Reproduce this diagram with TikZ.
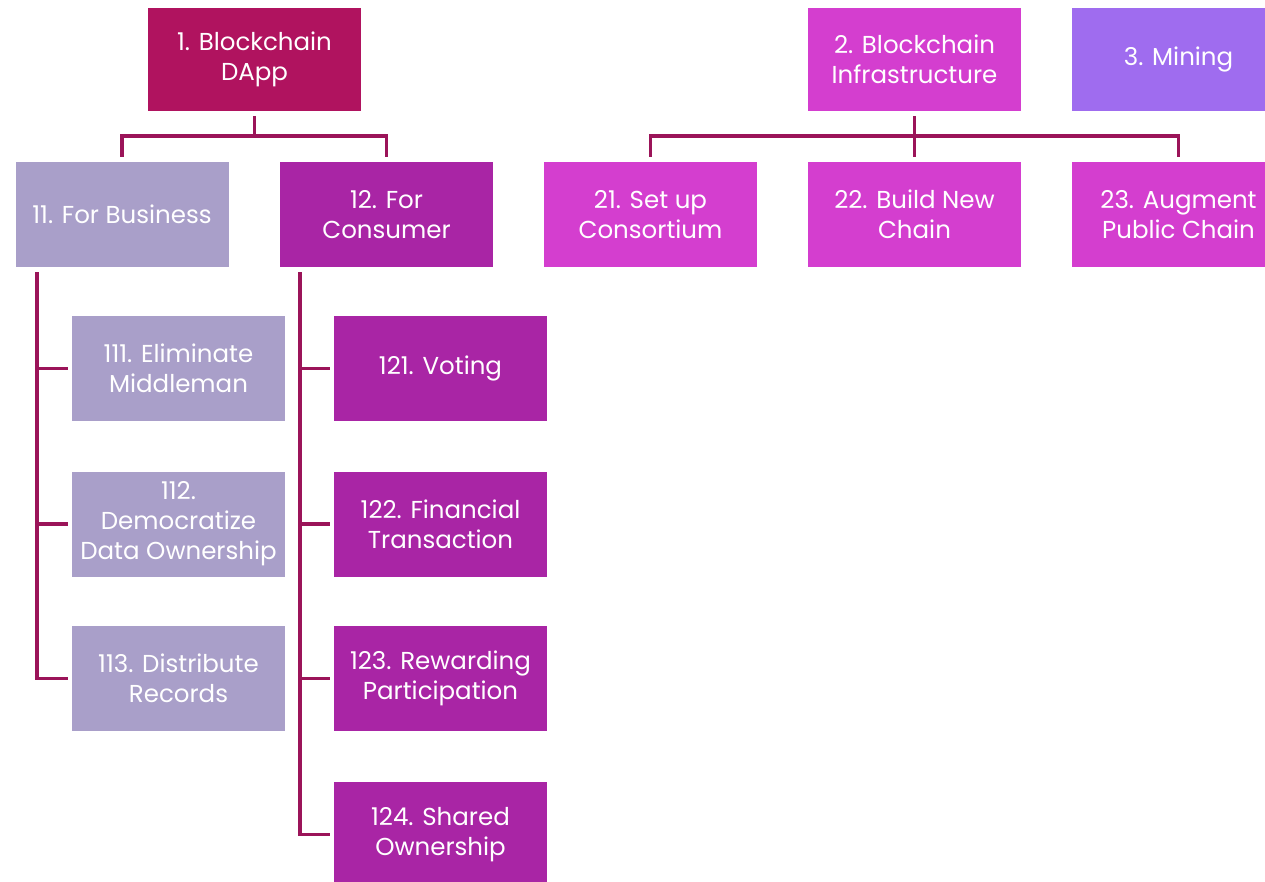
\documentclass[tikz,border=0pt]{standalone}
\usepackage{fontspec}
\setmainfont{Poppins}
\definecolor{cDapp}{HTML}{B0135F}
\definecolor{cBiz}{HTML}{A99FC9}
\definecolor{cCons}{HTML}{A925A5}
\definecolor{cInfra}{HTML}{D43ECF}
\definecolor{cMine}{HTML}{9F6CEF}
\definecolor{cLink}{HTML}{9B1459}
\tikzset{
  box/.style={minimum width=213pt, minimum height=105pt, inner sep=0pt,
    text=white, align=center, font=\fontsize{24.5}{30}\selectfont},
  top/.style={box, minimum height=103pt},
  conn/.style={draw=cLink, line width=3.8pt}
}
\begin{document}
\begin{tikzpicture}[x=1pt, y=-1pt]
\clip (0,0) rectangle (1265,881);
\fill[white] (0,0) rectangle (1265,881);

% top level
\node[top, fill=cDapp]  (n1) at (254.5,59.5) {1. Blockchain\\DApp};
\node[top, fill=cInfra] (n2) at (914.5,59.5) {2. Blockchain\\Infrastructure};
\node[top, fill=cMine]  (n3) at (1178.5,59.5) {3. Mining};

% second level
\node[box, fill=cBiz]   (n11) at (122,214.5)   {11. For Business};
\node[box, fill=cCons]  (n12) at (386.5,214.5) {12. For\\Consumer};
\node[box, fill=cInfra] (n21) at (650.5,214.5) {21. Set up\\Consortium};
\node[box, fill=cInfra] (n22) at (914.5,214.5) {22. Build New\\Chain};
\node[box, fill=cInfra] (n23) at (1178.5,214.5) {23. Augment\\Public Chain};

% business items
\node[box, fill=cBiz] (n111) at (178.5,368.5) {111. Eliminate\\Middleman};
\node[box, fill=cBiz] (n112) at (178.5,524)   {112.\\Democratize\\Data Ownership};
\node[box, fill=cBiz] (n113) at (178.5,678.5) {113. Distribute\\Records};

% consumer items
\node[box, fill=cCons] (n121) at (440.5,368.5) {121. Voting};
\node[box, fill=cCons] (n122) at (440.5,524)   {122. Financial\\Transaction};
\node[box, fill=cCons] (n123) at (440.5,678.5) {123. Rewarding\\Participation};
\node[box, fill=cCons] (n124) at (440.5,834.5) {124. Shared\\Ownership};

% org-chart links, top level to second level
\draw[conn] ([yshift=-5pt]n1.south) -- ++(0,20) -| ([yshift=5pt]n11.north);
\draw[conn] ([yshift=-5pt]n1.south) -- ++(0,20) -| ([yshift=5pt]n12.north);
\draw[conn] ([yshift=-5pt]n2.south) -- ++(0,20) -| ([yshift=5pt]n21.north);
\draw[conn] ([yshift=-5pt]n2.south) -- ([yshift=5pt]n22.north);
\draw[conn] ([yshift=-5pt]n2.south) -- ++(0,20) -| ([yshift=5pt]n23.north);

% side spines and the entry points of their branches
\coordinate (sL) at ([xshift=22pt,yshift=-5pt]n11.south west);
\coordinate (sR) at ([xshift=20pt,yshift=-5pt]n12.south west);
\foreach \n in {n111,n112,n113,n121,n122,n123,n124}
  \coordinate (\n-in) at ([xshift=-4pt]\n.west);
\draw[conn] (sL) |- (n113-in);
\draw[conn] (n111-in) -- (n111-in -| sL);
\draw[conn] (n112-in) -- (n112-in -| sL);
\draw[conn] (sR) |- (n124-in);
\draw[conn] (n121-in) -- (n121-in -| sR);
\draw[conn] (n122-in) -- (n122-in -| sR);
\draw[conn] (n123-in) -- (n123-in -| sR);
\end{tikzpicture}
\end{document}
